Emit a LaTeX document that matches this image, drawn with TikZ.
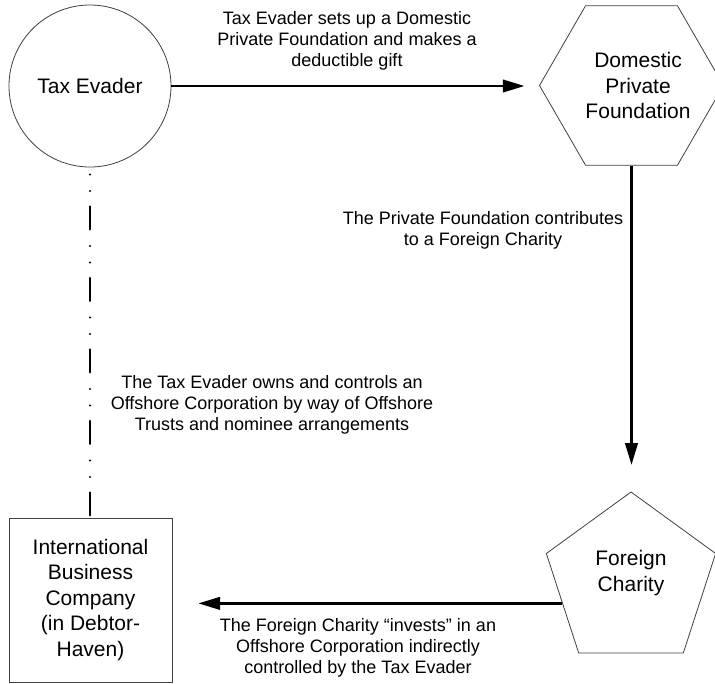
\documentclass[tikz,border=0pt]{standalone}
\usepackage{fontspec}
\setmainfont{Liberation Sans}
\usetikzlibrary{shapes.geometric,arrows.meta,calc}
\begin{document}
\begin{tikzpicture}[x=0.75pt,y=-0.75pt,
  shapeline/.style={draw=black!75, line width=0.6pt},
  nodetext/.style={font=\fontsize{15.75pt}{19.1pt}\selectfont, align=center, inner sep=0pt},
  lbl/.style={font=\fontsize{13.5pt}{15.75pt}\selectfont, align=center, inner sep=0pt},
  arr/.style={line width=1.9pt, -{Triangle[length=16.3pt,width=9.4pt]}},
  ownline/.style={line width=1.7pt, line cap=round, dash pattern=on 0pt off 12.375pt on 0pt off 11.625pt on 17.25pt off 12.375pt, dash phase=48.375pt}
]
\useasboundingbox (0,0) rectangle (715,683);
% shapes
\node[shapeline, circle, minimum size=121.5pt, nodetext] (te) at (90,86) {Tax Evader};
\node[shapeline, regular polygon, regular polygon sides=6, minimum size=138pt, inner sep=0pt,
  label={[nodetext,xshift=4.9pt]center:{Domestic\\Private\\Foundation}}] (dpf) at (631.5,85.5) {};
\node[shapeline, regular polygon, regular polygon sides=5, minimum size=133.5pt, inner sep=0pt,
  label={[nodetext,yshift=6pt]center:{Foreign\\Charity}}] (fc) at (631,581) {};
\node[shapeline, rectangle, minimum width=122.25pt, minimum height=123pt, nodetext] (ibc) at (90.5,600)
  {International\\Business\\Company\\(in Debtor-\\Haven)};
% connectors
\draw[arr, shorten >=10.9pt] (te.east) -- (te.east -| dpf.west);
\draw[arr, shorten >=20pt] (dpf.south) -- (dpf.south |- fc.north);
\draw[arr, shorten >=19.5pt] (fc.side 2) -- (fc.side 2 -| ibc.east);
\draw[ownline] (te.south) -- (te.south |- ibc.north);
% labels
\node[lbl] (l1) at (347,41) {Tax Evader sets up a Domestic\\Private Foundation and makes a\\deductible gift};
\node[lbl] (l2) at (483,230) {The Private Foundation contributes\\to a Foreign Charity};
\node[lbl] (l3) at (272,405) {The Tax Evader owns and controls an\\Offshore Corporation by way of Offshore\\Trusts and nominee arrangements};
\node[lbl] (l4) at (358,648) {The Foreign Charity “invests” in an\\Offshore Corporation indirectly\\controlled by the Tax Evader};
\end{tikzpicture}
\end{document}
